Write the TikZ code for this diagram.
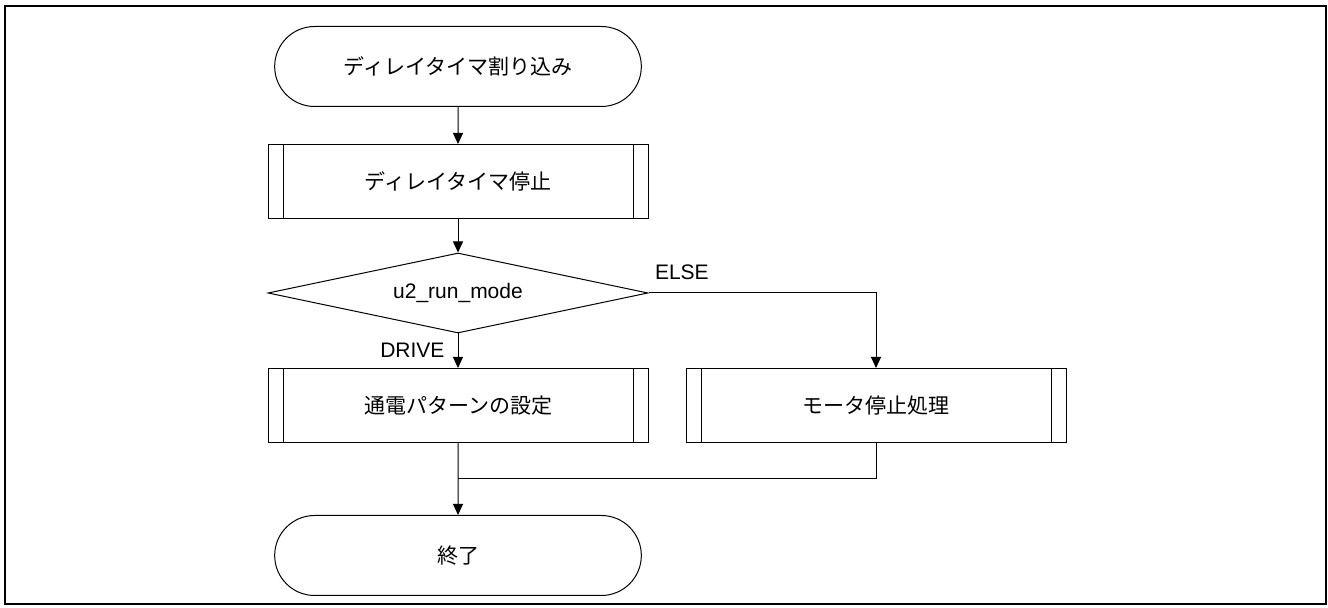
\documentclass[tikz,border=0pt]{standalone}
\usepackage{fontspec}
\setmainfont{Liberation Sans}
\newfontfamily\jp{Noto Sans CJK JP}
\usetikzlibrary{shapes.geometric, shapes.misc, arrows.meta}

\begin{document}
\begin{tikzpicture}[x=0.5pt, y=-0.5pt, ->, >={Triangle[length=5.5pt,width=5pt]}, line width=0.5pt,
    every node/.style={font=\fontsize{10.5pt}{12pt}\selectfont},
    terminal/.style={draw, rounded rectangle, minimum width=190pt, minimum height=40pt,
      font=\jp\fontsize{10.5pt}{12pt}\selectfont},
    process/.style={draw, rectangle, minimum width=190pt, minimum height=37pt,
      font=\jp\fontsize{10.5pt}{12pt}\selectfont,
      path picture={
        \draw[-] ([xshift=7.5pt]path picture bounding box.north west) -- ([xshift=7.5pt]path picture bounding box.south west);
        \draw[-] ([xshift=-7.5pt]path picture bounding box.north east) -- ([xshift=-7.5pt]path picture bounding box.south east);}},
    decision/.style={draw, diamond, aspect=4.75, inner sep=0pt, minimum width=190pt, minimum height=40pt},
    lbl/.style={inner sep=0pt}]
    \useasboundingbox (0,0) rectangle (1328,608);
    \draw[-, line width=1pt] (5,6) rectangle (1326,604);
    \node[terminal] (start) at (458,66.5) {ディレイタイマ割り込み};
    \node[process] (stop) at (458,181.5) {ディレイタイマ停止};
    \node[decision] (mode) at (458,293) {u2\_run\_mode};
    \node[process] (drive) at (458,405.5) {通電パターンの設定};
    \node[process] (halt) at (876,405.5) {モータ停止処理};
    \node[terminal] (end) at (458,555.5) {終了};
    \coordinate (join) at (458,479);
    % main line
    \draw (start) -- (stop);
    \draw (stop) -- (mode);
    \draw (mode) -- node[lbl, left=6.5pt] {DRIVE} (drive);
    \draw (drive) -- (end);
    % branch
    \draw (mode.east) -| node[lbl, pos=0, anchor=south west, xshift=3pt, yshift=6.5pt] {ELSE} (halt);
    \draw[-] (halt) |- (join);
\end{tikzpicture}
\end{document}
